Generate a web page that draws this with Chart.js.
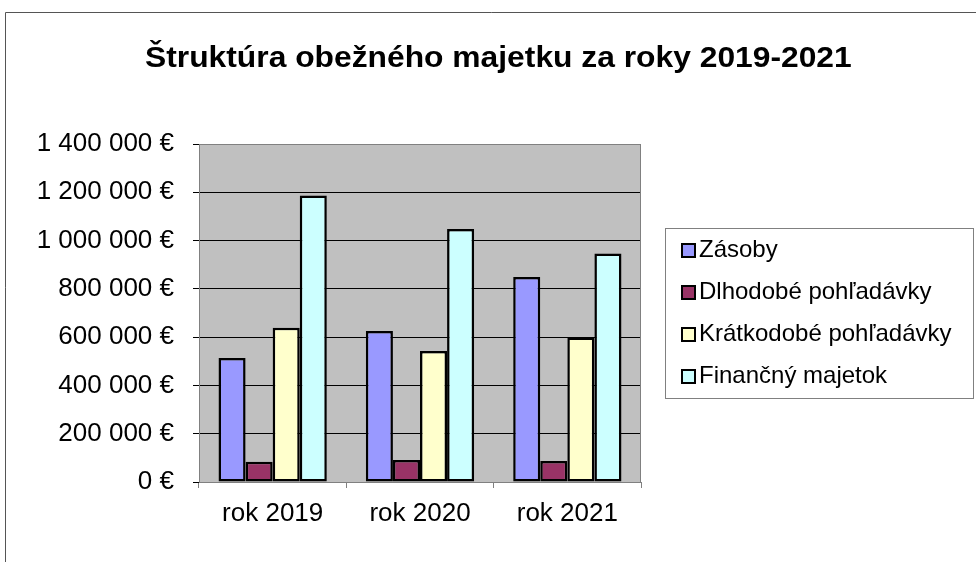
<!DOCTYPE html>
<html>
<head>
<meta charset="utf-8">
<script src="https://cdn.jsdelivr.net/npm/chart.js@4/dist/chart.umd.min.js"></script>
<style>
  html, body { margin: 0; padding: 0; background: #ffffff; }
  #wrap { position: relative; width: 976px; height: 562px; }
</style>
</head>
<body>
<div id="wrap"><canvas id="c" width="976" height="562"></canvas></div>
<script>
const chartTitle = 'Štruktúra obežného majetku za roky 2019-2021';
const categories = ['rok 2019', 'rok 2020', 'rok 2021'];
const seriesNames = ['Zásoby', 'Dlhodobé pohľadávky', 'Krátkodobé pohľadávky', 'Finančný majetok'];
const zasoby = [514000, 625000, 849000];
const dlhodobePohladavky = [84000, 91000, 87000];
const kratkodobePohladavky = [639000, 543000, 599000];
const financnyMajetok = [1187000, 1048000, 946000];
const yMin = 0;
const yMax = 1400000;
const yStep = 200000;

const seriesColors = ['#9999FF', '#993366', '#FFFFCC', '#CCFFFF'];
const FONT = "'Liberation Sans', Arial, sans-serif";

function fmtEuro(v) {
  return String(Math.round(v)).replace(/\B(?=(\d{3})+(?!\d))/g, ' ') + ' €';
}

const seriesValues = [zasoby, dlhodobePohladavky, kratkodobePohladavky, financnyMajetok];

const framePlugin = {
  id: 'frame',
  beforeDraw(chart) {
    const { ctx, chartArea: a } = chart;
    ctx.save();
    ctx.fillStyle = '#ffffff';
    ctx.fillRect(0, 0, chart.width, chart.height);
    // outer chart frame
    ctx.strokeStyle = '#555555';
    ctx.lineWidth = 1;
    ctx.beginPath();
    ctx.moveTo(5.5, chart.height + 2);
    ctx.lineTo(5.5, 12.5);
    ctx.lineTo(chart.width + 2, 12.5);
    ctx.stroke();
    // plot area background
    ctx.fillStyle = '#C0C0C0';
    ctx.fillRect(a.left, a.top, a.right - a.left, a.bottom - a.top);
    ctx.restore();
  },
  beforeDatasetsDraw(chart) {
    const { ctx, chartArea: a } = chart;
    ctx.save();
    ctx.strokeStyle = '#808080';
    ctx.lineWidth = 1;
    ctx.beginPath();
    ctx.moveTo(Math.round(a.left) + 0.5, Math.round(a.top) + 0.5);
    ctx.lineTo(Math.round(a.right) - 0.5, Math.round(a.top) + 0.5);
    ctx.lineTo(Math.round(a.right) - 0.5, Math.round(a.bottom));
    ctx.stroke();
    ctx.restore();
  },
  afterDraw(chart) {
    const { ctx } = chart;
    ctx.save();
    // title (horizontally stretched like the original)
    ctx.font = 'bold 30px ' + FONT;
    ctx.textBaseline = 'alphabetic';
    ctx.textAlign = 'left';
    ctx.fillStyle = '#000000';
    const m = ctx.measureText(chartTitle);
    const w = m.actualBoundingBoxLeft + m.actualBoundingBoxRight;
    const targetLeft = 145, targetRight = 851;
    const sx = (targetRight - targetLeft) / w;
    ctx.save();
    ctx.translate(targetLeft, 67);
    ctx.scale(sx, 1);
    ctx.fillText(chartTitle, m.actualBoundingBoxLeft, 0);
    ctx.restore();

    // legend box
    const bx = 665.5, by = 228.5, bw = 308, bh = 170;
    ctx.fillStyle = '#ffffff';
    ctx.fillRect(bx, by, bw, bh);
    ctx.strokeStyle = '#808080';
    ctx.lineWidth = 1;
    ctx.strokeRect(bx, by, bw, bh);
    ctx.font = '24px ' + FONT;
    ctx.textBaseline = 'middle';
    ctx.textAlign = 'left';
    chart.data.datasets.forEach((ds, i) => {
      const cy = 250.5 + i * 42;
      ctx.fillStyle = ds.backgroundColor;
      ctx.fillRect(682, cy - 6.5, 13, 13);
      ctx.strokeStyle = '#000000';
      ctx.lineWidth = 2;
      ctx.strokeRect(682, cy - 6.5, 13, 13);
      ctx.fillStyle = '#000000';
      ctx.fillText(ds.label, 699, cy);
    });
    ctx.restore();
  }
};

new Chart(document.getElementById('c'), {
  type: 'bar',
  data: {
    labels: categories,
    datasets: seriesNames.map((name, i) => ({
      label: name,
      data: seriesValues[i],
      backgroundColor: seriesColors[i],
      borderColor: '#000000',
      borderWidth: 2.5,
      borderSkipped: false,
      categoryPercentage: 0.735,
      barPercentage: 1.0
    }))
  },
  options: {
    responsive: false,
    animation: false,
    devicePixelRatio: 1,
    layout: { padding: { left: 0, right: 335, top: 144, bottom: 0 } },
    plugins: {
      legend: { display: false },
      tooltip: { enabled: false },
      title: { display: false }
    },
    scales: {
      x: {
        afterFit(s) { s.height = 80; },
        grid: {
          offset: true,
          drawOnChartArea: false,
          drawTicks: true,
          tickLength: 6,
          color: '#808080'
        },
        border: { color: '#808080', width: 1 },
        ticks: {
          color: '#000000',
          font: { family: FONT, size: 26 },
          padding: 10,
          maxRotation: 0
        }
      },
      y: {
        min: yMin,
        max: yMax,
        afterFit(s) { s.width = 199; },
        grid: {
          color: (c) => (c.tick && c.tick.value === yMax ? '#808080' : '#000000'),
          tickColor: '#000000',
          tickLength: 6,
          lineWidth: 1
        },
        border: { color: '#808080', width: 1 },
        ticks: {
          stepSize: yStep,
          color: '#000000',
          font: { family: FONT, size: 26 },
          padding: 19,
          callback: (v) => fmtEuro(v)
        }
      }
    }
  },
  plugins: [framePlugin]
});
</script>
</body>
</html>
